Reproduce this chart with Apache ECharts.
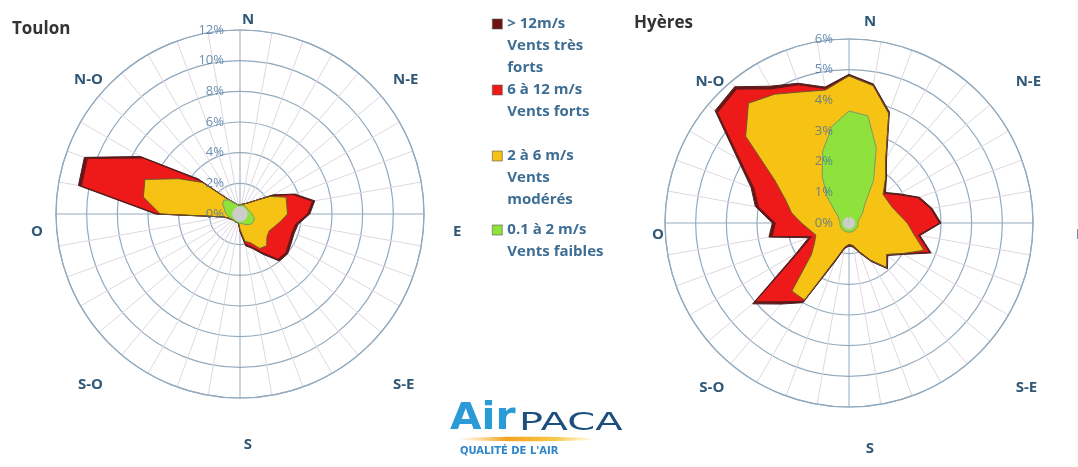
<!DOCTYPE html>
<html>
<head>
<meta charset="utf-8">
<style>
    html, body { margin: 0; padding: 0; background: #ffffff; }
    #main { width: 1078px; height: 467px; }
</style>
</head>
<body>
<div id="main"></div>
<script src="https://cdn.jsdelivr.net/npm/echarts@6/dist/echarts.min.js"></script>
<script>
    // wind directions, every 10 degrees clockwise from north
    const directions = [0, 10, 20, 30, 40, 50, 60, 70, 80, 90, 100, 110, 120, 130, 140, 150, 160, 170,
        180, 190, 200, 210, 220, 230, 240, 250, 260, 270, 280, 290, 300, 310, 320, 330, 340, 350];
    const compassLabels = ['N', 'N-E', 'E', 'S-E', 'S', 'S-O', 'O', 'N-O'];

    const speedClasses = ['> 12m/s', '6 à 12 m/s', '2 à 6 m/s', '0.1 à 2 m/s'];
    const speedNames = ['Vents très\nforts', 'Vents forts', 'Vents\nmodérés', 'Vents faibles'];

    // Toulon, cumulated frequencies (%) per direction
    const toulonCalm = [0.5, 0.5, 0.5, 0.5, 0.5, 0.5, 0.5, 0.5, 0.5, 0.5, 0.5, 0.5, 0.5, 0.5, 0.5, 0.5, 0.5, 0.5,
        0.5, 0.5, 0.5, 0.5, 0.5, 0.5, 0.5, 0.5, 0.5, 0.5, 0.5, 0.5, 0.5, 0.5, 0.5, 0.5, 0.5, 0.5];
    const toulonUpTo2 = [0.6, 0.6, 0.6, 0.6, 0.6, 0.6, 0.6, 0.6, 0.7, 0.8, 0.9, 1.0, 1.0, 1.0, 0.9, 0.8, 0.7, 0.7,
        0.6, 0.6, 0.6, 0.6, 0.6, 0.6, 0.6, 0.7, 0.8, 0.9, 1.0, 1.1, 1.3, 1.4, 1.2, 0.9, 0.7, 0.6];
    const toulonUpTo6 = [0.6, 0.6, 0.7, 0.8, 1.0, 1.4, 2.3, 3.2, 3.1, 3.1, 2.7, 2.4, 2.2, 2.3, 2.7, 2.6, 2.0, 1.8,
        1.0, 0.6, 0.6, 0.6, 0.6, 0.6, 0.7, 0.8, 1.1, 5.2, 6.4, 6.6, 4.6, 3.2, 1.3, 0.9, 0.7, 0.6];
    const toulonUpTo12 = [0.6, 0.6, 0.7, 0.8, 1.0, 1.4, 2.4, 3.7, 4.8, 4.4, 3.7, 3.6, 3.7, 3.9, 3.85, 2.9, 2.3, 2.0,
        1.1, 0.6, 0.6, 0.6, 0.6, 0.6, 0.7, 0.8, 1.1, 5.4, 10.5, 10.6, 7.3, 3.4, 1.3, 0.9, 0.7, 0.6];
    const toulonAll = [0.6, 0.6, 0.7, 0.8, 1.0, 1.4, 2.5, 3.8, 4.95, 4.55, 3.85, 3.75, 3.85, 4.05, 4.0, 3.05, 2.4, 2.1,
        1.15, 0.6, 0.6, 0.6, 0.6, 0.6, 0.7, 0.8, 1.1, 5.5, 10.7, 10.8, 7.5, 3.55, 1.35, 0.9, 0.7, 0.6];

    // Hyères, cumulated frequencies (%) per direction
    const hyeresCalm = [0.2, 0.2, 0.2, 0.2, 0.2, 0.2, 0.2, 0.2, 0.2, 0.2, 0.2, 0.2, 0.2, 0.2, 0.2, 0.2, 0.2, 0.2,
        0.2, 0.2, 0.2, 0.2, 0.2, 0.2, 0.2, 0.2, 0.2, 0.2, 0.2, 0.2, 0.2, 0.2, 0.2, 0.2, 0.2, 0.2];
    const hyeresUpTo2 = [3.65, 3.55, 2.6, 1.6, 0.8, 0.6, 0.45, 0.35, 0.3, 0.3, 0.3, 0.3, 0.3, 0.3, 0.3, 0.3, 0.3, 0.3,
        0.3, 0.3, 0.3, 0.3, 0.3, 0.3, 0.3, 0.3, 0.3, 0.3, 0.3, 0.35, 0.4, 0.6, 1.1, 1.75, 2.5, 3.2];
    const hyeresUpTo6 = [4.8, 4.55, 3.8, 2.4, 1.85, 1.45, 1.45, 1.5, 1.65, 1.9, 2.15, 2.6, 2.0, 1.6, 1.9, 1.4, 1.0, 0.75,
        0.7, 0.8, 1.25, 2.9, 2.9, 1.6, 1.3, 1.15, 1.3, 1.55, 1.9, 2.2, 2.8, 4.4, 5.1, 4.85, 4.55, 4.4];
    const hyeresUpTo12 = [4.8, 4.55, 3.8, 2.4, 1.85, 1.5, 1.85, 2.4, 2.7, 2.95, 2.3, 2.8, 2.0, 1.6, 1.9, 1.4, 1.0, 0.75,
        0.7, 0.8, 1.3, 2.95, 3.35, 4.0, 1.9, 1.3, 2.55, 2.4, 3.0, 3.3, 4.1, 5.6, 5.7, 5.05, 4.8, 4.45];
    const hyeresAll = [4.85, 4.6, 3.85, 2.45, 1.9, 1.55, 1.9, 2.45, 2.75, 3.0, 2.35, 2.85, 2.05, 1.65, 1.95, 1.45, 1.05, 0.8,
        0.75, 0.85, 1.35, 3.0, 3.45, 4.1, 2.0, 1.4, 2.65, 2.5, 3.1, 3.4, 4.2, 5.7, 5.8, 5.15, 4.85, 4.5];

    const classColors = ['#6e1414', '#ee1a1a', '#f6c214', '#8fe23c'];
    const calmColor = '#cdcdcd';
    const ringColor = '#93aabd';
    const spokeColor = '#ded7df';
    const labelBlue = '#2f5878';

    // [radius, angle] points, closed back on north
    function roseData(values) {
        const pts = values.map((v, i) => [v, directions[i]]);
        pts.push([values[0], 360]);
        return pts;
    }

    function band(name, polarIndex, values, fill, stroke) {
        return {
            type: 'line',
            name: name,
            coordinateSystem: 'polar',
            polarIndex: polarIndex,
            data: roseData(values),
            symbol: 'none',
            silent: true,
            itemStyle: {color: fill},
            lineStyle: {color: stroke || fill, width: stroke ? 1 : 0},
            areaStyle: {color: fill, opacity: 1}
        };
    }

    function rose(polarIndex, calm, upTo2, upTo6, upTo12, all) {
        return [
            band(speedClasses[0], polarIndex, all, classColors[0], '#4a2222'),
            band(speedClasses[1], polarIndex, upTo12, classColors[1], '#5e1c1c'),
            band(speedClasses[2], polarIndex, upTo6, classColors[2], '#6b5a2c'),
            band(speedClasses[3], polarIndex, upTo2, classColors[3], '#7d9a68'),
            band('calme', polarIndex, calm, calmColor, null)
        ];
    }

    function gridAngle(polarIndex) {
        return {
            polarIndex: polarIndex, type: 'value', min: 0, max: 360, interval: 90,
            startAngle: 90, clockwise: true,
            axisLine: {show: true, lineStyle: {color: ringColor, width: 1.2}},
            axisTick: {show: false},
            axisLabel: {show: false},
            splitLine: {show: true, lineStyle: {color: ringColor, width: 1}},
            minorTick: {show: false, splitNumber: 9},
            minorSplitLine: {show: true, lineStyle: {color: spokeColor, width: 1}}
        };
    }

    function gridRadius(polarIndex, max, step) {
        return {
            polarIndex: polarIndex, type: 'value', min: 0, max: max, interval: step,
            axisLine: {show: false}, axisTick: {show: false}, axisLabel: {show: false},
            splitLine: {show: true, lineStyle: {color: ringColor, width: 1.2}}
        };
    }

    function labelAngle(polarIndex) {
        return {polarIndex: polarIndex, type: 'value', min: 0, max: 360, startAngle: 90, show: false};
    }

    function labelRadius(polarIndex, max, step) {
        return {
            polarIndex: polarIndex, type: 'value', min: 0, max: max, interval: step, z: 10,
            axisLine: {show: false}, axisTick: {show: false}, splitLine: {show: false},
            axisLabel: {formatter: '{value}%', color: 'rgba(70,115,160,0.8)', fontSize: 13, margin: 16}
        };
    }

    function compassAngle(polarIndex) {
        return {
            polarIndex: polarIndex, type: 'category', data: compassLabels, boundaryGap: false,
            startAngle: 90, clockwise: true,
            axisLine: {show: false}, axisTick: {show: false}, splitLine: {show: false},
            axisLabel: {margin: 15, color: labelBlue, fontSize: 15, fontWeight: 'bold'}
        };
    }

    // blank lines in front keep the square level with the first line of text
    const legendTops = [-31, 57, 101, 197];
    const legendLead = ['\n\n', '\n', '\n\n', '\n'];

    const option = {
        animation: false,
        textStyle: {fontFamily: 'Open Sans'},
        title: [
            {text: 'Toulon', left: 12, top: 21, padding: 0,
                textStyle: {fontSize: 17, fontWeight: 'bold', color: '#333333'}},
            {text: 'Hyères', left: 634, top: 15, padding: 0,
                textStyle: {fontSize: 17, fontWeight: 'bold', color: '#333333'}}
        ],
        legend: speedClasses.map((name, i) => ({
            data: [name],
            left: 492,
            top: legendTops[i],
            padding: 0,
            icon: 'rect',
            itemWidth: 10,
            itemHeight: 10,
            selectedMode: false,
            itemStyle: {color: classColors[i], borderColor: '#555555', borderWidth: 0.6},
            formatter: n => legendLead[i] + n + '\n' + speedNames[i],
            textStyle: {color: '#3d6d93', fontSize: 15, fontWeight: 'bold', lineHeight: 22}
        })),
        polar: [
            {center: [240, 214], radius: 184},
            {center: [240, 214], radius: 184},
            {center: [248, 232], radius: 190},
            {center: [849, 223], radius: 184},
            {center: [849, 223], radius: 184},
            {center: [870, 235], radius: 191}
        ],
        angleAxis: [
            gridAngle(0), labelAngle(1), compassAngle(2),
            gridAngle(3), labelAngle(4), compassAngle(5)
        ],
        radiusAxis: [
            gridRadius(0, 12, 2), labelRadius(1, 12, 2), {polarIndex: 2, type: 'value', min: 0, max: 1, show: false},
            gridRadius(3, 6, 1), labelRadius(4, 6, 1), {polarIndex: 5, type: 'value', min: 0, max: 1, show: false}
        ],
        series: [].concat(
            rose(0, toulonCalm, toulonUpTo2, toulonUpTo6, toulonUpTo12, toulonAll),
            rose(3, hyeresCalm, hyeresUpTo2, hyeresUpTo6, hyeresUpTo12, hyeresAll)
        ),
        graphic: [
            {
                type: 'text', x: 450, y: 419, scaleX: 1.1,
                style: {
                    text: 'Air', x: 0, y: 0, verticalAlign: 'middle',
                    font: 'bold 37px "DejaVu Sans"', fill: '#2b9bd8'
                }
            },
            {
                type: 'text', x: 519, y: 423, scaleX: 1.6,
                style: {text: 'PACA', x: 0, y: 0, verticalAlign: 'middle', font: '25px "DejaVu Sans"', fill: '#1d4f7e'}
            },
            {
                type: 'ellipse', shape: {cx: 527, cy: 439, rx: 70, ry: 2.2},
                style: {
                    fill: new echarts.graphic.LinearGradient(0, 0, 1, 0, [
                        {offset: 0, color: 'rgba(250,190,60,0)'},
                        {offset: 0.35, color: '#f4a21e'},
                        {offset: 0.7, color: '#f8c84a'},
                        {offset: 1, color: 'rgba(250,210,90,0)'}
                    ])
                }
            },
            {
                type: 'text', x: 460, y: 451,
                style: {text: 'QUALITÉ DE L\'AIR', x: 0, y: 0, verticalAlign: 'middle',
                    font: 'bold 10px "DejaVu Sans"', fill: '#2f86c8'}
            }
        ]
    };

    const chart = echarts.init(document.getElementById('main'));
    chart.setOption(option);
</script>
</body>
</html>
